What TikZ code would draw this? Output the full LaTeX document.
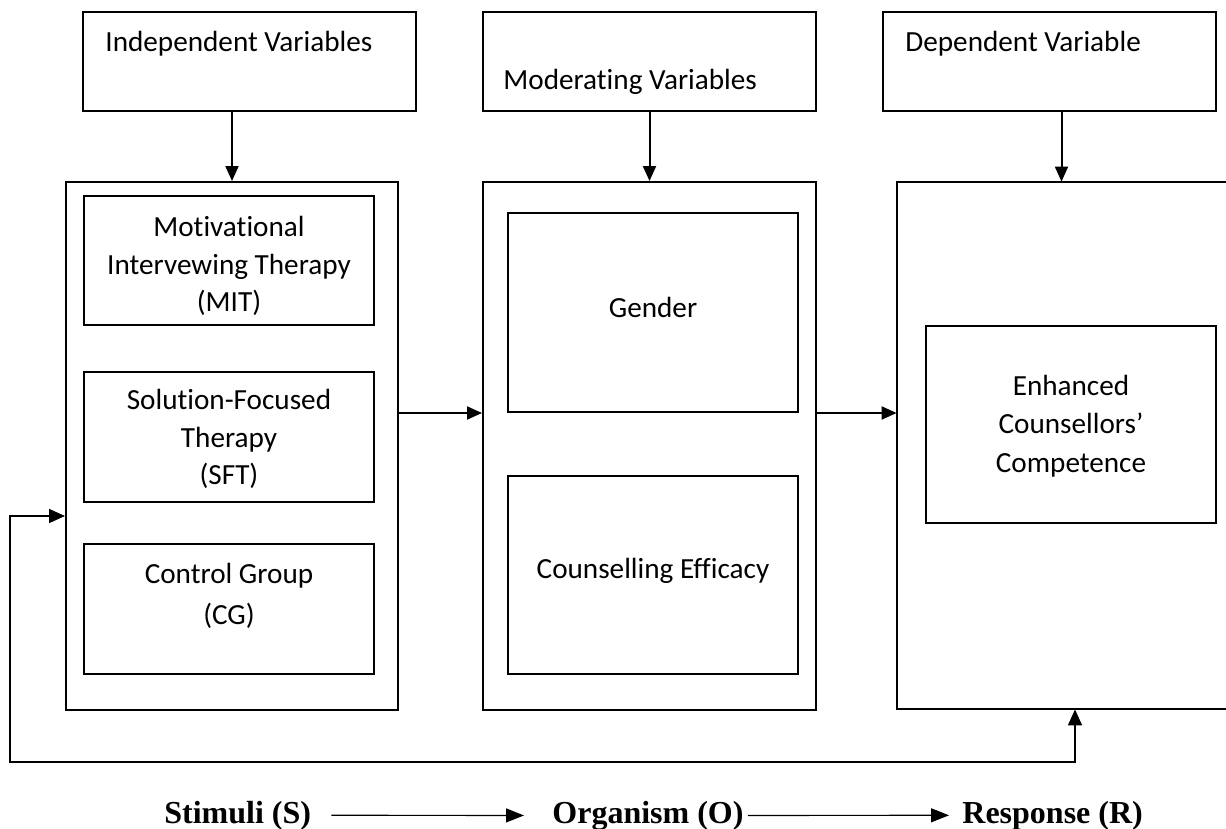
\documentclass[tikz,border=0pt]{standalone}
\usepackage{fontspec}
\setmainfont{Carlito}[Ligatures=CommonOff]
\newfontfamily\tnr{Liberation Serif}
\usetikzlibrary{fit,arrows.meta}
\begin{document}
\begin{tikzpicture}[x=0.5pt,y=-0.5pt,
  txt/.style={font=\fontsize{14.6}{18.7}\selectfont},
  box/.style={draw, line width=1pt, inner sep=0pt},
  lbl/.style={inner sep=0pt, align=center, txt},
  arr/.style={line width=1pt, -{Triangle[length=7.5pt,width=6.5pt]}},
  fbarr/.style={line width=0.8pt, {Triangle[length=8pt,width=7pt]}-{Triangle[length=8pt,width=7pt]}},
  srlbl/.style={inner sep=0pt, font=\tnr\bfseries\fontsize{16}{19}\selectfont},
  srarr/.style={line width=0.6pt, -{Triangle[length=9pt,width=7pt]}}]
\useasboundingbox (0,0) rectangle (1226,829);
% header boxes
\node[box, fit={(83,12)(416,111)}] (iv) {};
\node[lbl, anchor=base west] (ivt) at (105,52) {Independent Variables};
\node[box, fit={(483,12)(816,111)}] (mv) {};
\node[lbl, anchor=base west] (mvt) at (503,90) {Moderating Variables};
\node[box, fit={(883,12)(1216,111)}] (dv) {};
\node[lbl, anchor=base west] (dvt) at (905,52) {Dependent Variable};
% big boxes
\node[box, fit={(66,182)(398,710)}] (lb) {};
\node[box, fit={(483,182)(816,710)}] (mb) {};
\node[inner sep=0pt, fit={(897,182)(1226,709)}] (rb) {};
\draw[line width=1pt] (rb.north east) -- (rb.north west) -- (rb.south west) -- (rb.south east);
% inner boxes
\node[box, fit={(84,196)(374,325)}] (mit) {};
\node[lbl] (mitt) at (229,266) {Motivational\\Intervewing Therapy\\(MIT)};
\node[box, fit={(84,372)(374,502)}] (sft) {};
\node[lbl] (sftt) at (229,439) {Solution-Focused\\Therapy\\(SFT)};
\node[box, fit={(84,544)(374,674)}] (cg) {};
\node[lbl, font=\fontsize{14.6}{20.5}\selectfont] (cgt) at (229,596) {Control Group\\(CG)};
\node[box, fit={(508,213)(798,412)}] (gen) {};
\node[lbl] (gent) at (653,307) {Gender};
\node[box, fit={(508,476)(798,674)}] (ce) {};
\node[lbl] (cet) at (653,571) {Counselling Efficacy};
\node[box, fit={(926,326)(1216,523)}] (ecc) {};
\node[lbl, font=\fontsize{14.6}{19.2}\selectfont] (ecct) at (1071,426) {Enhanced\\Counsellors’\\Competence};
% connectors
\draw[arr] (iv.south -| lb.north) -- (lb.north);
\draw[arr] (mv.south) -- (mb.north);
\draw[arr] (dv.south -| rb.north) -- (rb.north);
\draw[arr] (lb.east |- gen.south) -- (mb.west |- gen.south);
\draw[arr] (mb.east |- gen.south) -- (rb.west |- gen.south);
\coordinate (fbc) at (10,762);
\draw[fbarr] ([yshift=-35pt]lb.west) -| (fbc) -| ([xshift=6.75pt]rb.south);
% S-O-R
\node[srlbl, anchor=base west] (s) at (164,823) {Stimuli (S)};
\node[srlbl, anchor=base west] (o) at (552,823) {Organism (O)};
\node[srlbl, anchor=base west] (r) at (962,823) {Response (R)};
\draw[srarr] ([xshift=10pt]s.east) -- ([xshift=-14pt]o.west);
\draw[srarr] ([xshift=2pt]o.east) -- ([xshift=-6.5pt]r.west);
\end{tikzpicture}
\end{document}
